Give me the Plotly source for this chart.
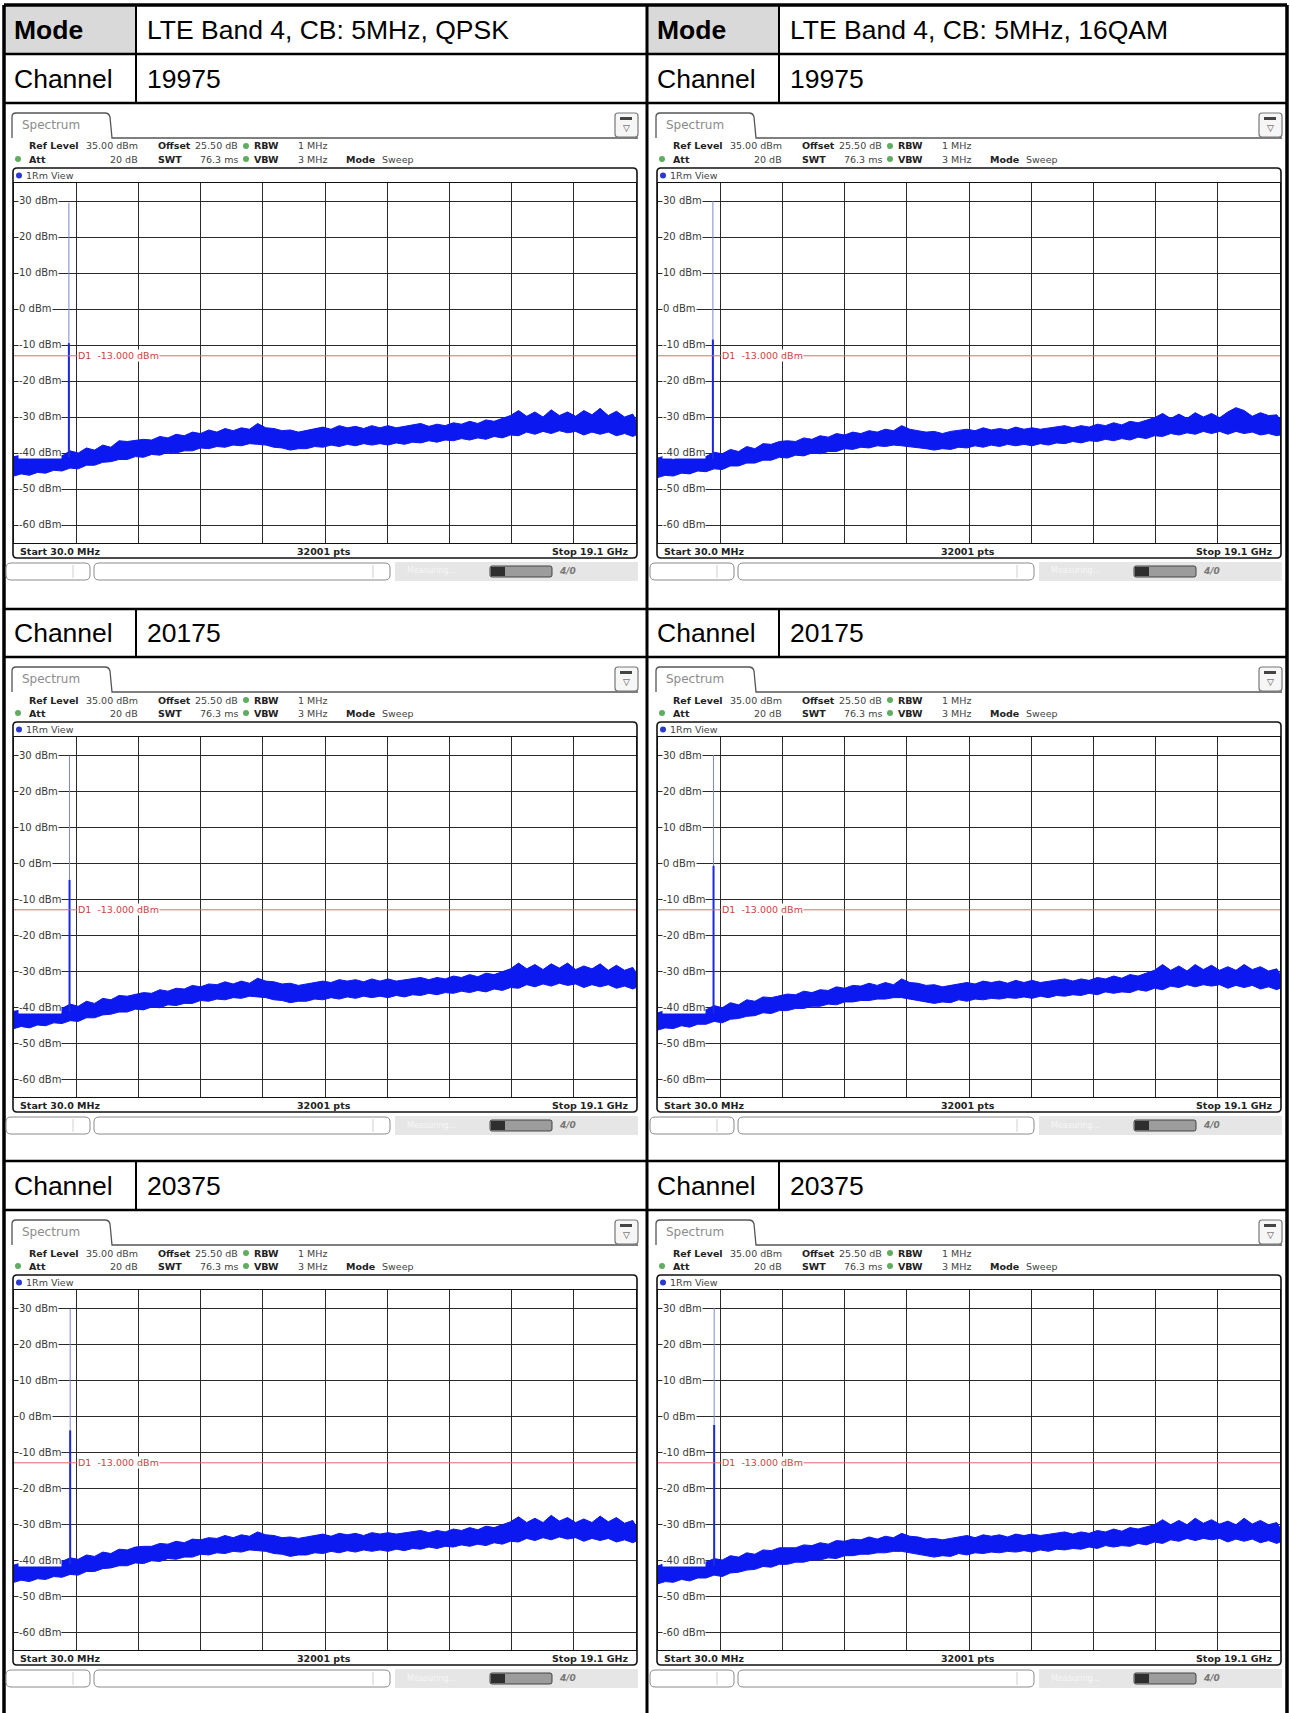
import plotly.graph_objects as go

W, H = 1290, 1713

# ---------------- data ----------------
freq_ghz = [0.03, 0.25, 0.5, 0.75, 1.0, 1.25, 1.5, 1.75, 2.0, 2.25, 2.5, 2.75, 3.0,
            3.25, 3.5, 3.75, 4.0, 4.25, 4.5, 4.75, 5.0, 5.25, 5.5, 5.75, 6.0, 6.25,
            6.5, 6.75, 7.0, 7.25, 7.5, 7.75, 8.0, 8.25, 8.5, 8.75, 9.0, 9.25, 9.5,
            9.75, 10.0, 10.25, 10.5, 10.75, 11.0, 11.25, 11.5, 11.75, 12.0, 12.25, 12.5, 12.75,
            13.0, 13.25, 13.5, 13.75, 14.0, 14.25, 14.5, 14.75, 15.0, 15.25, 15.5, 15.75, 16.0,
            16.25, 16.5, 16.75, 17.0, 17.25, 17.5, 17.75, 18.0, 18.25, 18.5, 18.75, 19.0, 19.1]

modes = ["LTE Band 4, CB: 5MHz, QPSK", "LTE Band 4, CB: 5MHz, 16QAM"]
channels = ["19975", "20175", "20375"]
carrier_ghz = [1.7125, 1.7325, 1.7525]

y_ticks = [30, 20, 10, 0, -10, -20, -30, -40, -50, -60]
display_line_dbm = -13.0
start_ghz, stop_ghz = 0.03, 19.1
ref_dbm, bottom_dbm = 35, -65

# upper / lower envelope of the noise-floor trace (dBm)
qpsk_19975_hi = [-41.0, -40.6, -41.6, -40.4, -41.2, -39.8, -40.8, -39.4, -40.0, -38.6, -39.2, -37.8, -38.4,
                 -36.6, -36.8, -36.6, -36.2, -36.4, -35.4, -35.8, -34.8, -35.2, -34.2, -34.6, -33.6, -34.2,
                 -33.2, -33.8, -33.0, -33.4, -31.8, -33.0, -33.2, -33.8, -33.6, -34.2, -33.8, -33.2, -32.8,
                 -33.4, -32.4, -33.0, -32.6, -33.2, -32.4, -33.0, -32.4, -33.0, -32.6, -32.2, -31.8, -32.6,
                 -32.0, -32.4, -31.6, -32.0, -31.2, -31.8, -30.8, -31.2, -30.4, -29.6, -28.2, -29.8, -28.6,
                 -30.0, -28.0, -29.6, -28.6, -29.8, -28.2, -29.4, -27.6, -29.6, -28.4, -30.0, -29.2, -30.8]
qpsk_19975_lo = [-46.4, -45.8, -46.2, -45.4, -45.6, -44.8, -45.0, -44.2, -44.4, -43.4, -43.4, -42.6, -42.4,
                 -41.8, -41.8, -41.0, -41.2, -40.4, -40.6, -39.8, -40.0, -39.4, -39.4, -38.6, -38.8, -38.2,
                 -38.4, -37.8, -38.0, -37.4, -37.6, -37.8, -38.4, -38.6, -39.2, -38.8, -38.8, -38.2, -38.4,
                 -37.8, -38.2, -37.6, -38.0, -37.4, -37.8, -37.4, -37.8, -37.2, -37.6, -37.0, -37.2, -36.6,
                 -37.0, -36.4, -36.6, -36.0, -36.4, -35.8, -36.2, -35.4, -35.8, -35.0, -35.2, -34.2, -34.8,
                 -34.0, -34.6, -33.8, -34.4, -34.0, -35.0, -34.2, -34.8, -34.2, -35.2, -34.6, -35.4, -35.0]
qam_19975_hi = [-41.4, -40.8, -41.8, -40.6, -41.4, -40.2, -41.0, -39.8, -40.2, -39.0, -39.6, -38.2, -38.8,
                -37.4, -37.6, -36.8, -36.6, -36.8, -35.8, -36.2, -35.2, -35.6, -34.6, -35.0, -34.2, -34.6,
                -33.8, -34.2, -33.4, -33.8, -32.4, -33.4, -33.8, -34.2, -34.0, -34.6, -34.0, -33.6, -33.4,
                -33.8, -33.0, -33.6, -33.2, -33.6, -32.8, -33.4, -33.0, -33.4, -33.0, -32.6, -32.4, -33.0,
                -32.4, -32.8, -32.0, -32.4, -31.6, -32.2, -31.2, -31.6, -30.8, -30.2, -29.0, -30.4, -29.2,
                -30.4, -28.8, -30.0, -29.0, -30.2, -28.6, -27.4, -28.2, -29.8, -28.8, -29.6, -29.4, -30.6]
qam_19975_lo = [-46.8, -46.2, -46.4, -45.6, -45.8, -45.0, -45.2, -44.4, -44.6, -43.6, -43.6, -42.8, -42.8,
                -42.0, -42.0, -41.2, -41.4, -40.6, -40.8, -40.0, -40.2, -39.6, -39.6, -38.8, -39.0, -38.4,
                -38.6, -38.0, -38.2, -37.8, -38.0, -38.2, -38.6, -38.8, -39.2, -38.8, -39.0, -38.4, -38.6,
                -38.0, -38.4, -37.8, -38.2, -37.6, -38.0, -37.6, -38.0, -37.4, -37.8, -37.2, -37.4, -36.8,
                -37.2, -36.6, -36.8, -36.2, -36.6, -36.0, -36.4, -35.6, -36.0, -35.2, -35.4, -34.6, -35.0,
                -34.4, -34.8, -34.0, -34.6, -34.0, -34.8, -34.0, -34.6, -34.2, -35.0, -34.6, -35.2, -35.0]
qpsk_20175_hi = [-41.2, -40.8, -41.4, -40.2, -40.8, -39.6, -40.4, -39.2, -39.8, -38.4, -39.0, -37.6, -38.0,
                 -36.8, -37.0, -36.4, -36.0, -36.2, -35.2, -35.6, -34.8, -35.0, -34.0, -34.4, -33.6, -33.8,
                 -33.0, -33.6, -32.8, -33.4, -32.0, -32.8, -33.0, -33.6, -33.4, -34.0, -33.6, -33.0, -32.8,
                 -33.2, -32.4, -32.8, -32.4, -33.0, -32.2, -32.8, -32.2, -32.8, -32.4, -32.0, -31.8, -32.4,
                 -31.8, -32.2, -31.4, -31.8, -31.0, -31.6, -30.6, -31.0, -30.2, -29.4, -27.8, -29.4, -28.2,
                 -29.6, -28.0, -29.2, -27.8, -29.6, -28.6, -29.4, -28.0, -29.8, -28.4, -29.8, -29.0, -30.4]
qpsk_20175_lo = [-46.0, -45.4, -45.8, -45.0, -45.2, -44.4, -44.6, -43.8, -44.0, -43.0, -43.0, -42.2, -42.0,
                 -41.4, -41.4, -40.6, -40.8, -40.0, -40.2, -39.4, -39.6, -39.0, -39.0, -38.2, -38.4, -37.8,
                 -38.0, -37.4, -37.6, -37.0, -37.2, -37.4, -38.0, -38.2, -38.8, -38.4, -38.4, -37.8, -38.0,
                 -37.4, -37.8, -37.2, -37.6, -37.0, -37.4, -37.0, -37.4, -36.8, -37.2, -36.6, -36.8, -36.2,
                 -36.6, -36.0, -36.2, -35.6, -36.0, -35.4, -35.8, -35.0, -35.4, -34.6, -34.8, -33.8, -34.4,
                 -33.6, -34.2, -33.4, -34.0, -33.6, -34.6, -33.8, -34.4, -33.8, -34.8, -34.2, -35.0, -34.6]
qam_20175_hi = [-41.6, -41.0, -41.8, -40.6, -41.2, -40.0, -40.8, -39.6, -40.2, -38.8, -39.4, -38.0, -38.4,
                -37.2, -37.4, -36.8, -36.4, -36.6, -35.6, -36.0, -35.2, -35.4, -34.4, -34.8, -34.0, -34.2,
                -33.4, -34.0, -33.2, -33.8, -32.2, -33.2, -33.4, -34.0, -33.8, -34.4, -34.0, -33.4, -33.2,
                -33.6, -32.8, -33.2, -32.8, -33.4, -32.6, -33.2, -32.6, -33.2, -32.8, -32.4, -32.2, -32.8,
                -32.2, -32.6, -31.8, -32.2, -31.4, -32.0, -31.0, -31.4, -30.6, -29.8, -28.2, -29.8, -28.6,
                -30.0, -28.2, -29.6, -28.4, -29.8, -28.8, -29.8, -28.2, -29.6, -28.8, -30.0, -29.4, -30.8]
qam_20175_lo = [-46.4, -45.8, -46.0, -45.2, -45.6, -44.8, -44.8, -44.0, -44.4, -43.4, -43.2, -42.6, -42.4,
                -41.6, -41.8, -41.0, -41.0, -40.4, -40.4, -39.8, -39.8, -39.2, -39.4, -38.6, -38.6, -38.2,
                -38.2, -37.8, -37.8, -37.4, -37.4, -37.8, -38.2, -38.6, -39.0, -38.6, -38.8, -38.0, -38.4,
                -37.8, -38.0, -37.6, -37.8, -37.4, -37.6, -37.2, -37.6, -37.0, -37.4, -36.8, -37.0, -36.6,
                -36.8, -36.2, -36.6, -35.8, -36.2, -35.8, -36.0, -35.2, -35.6, -34.8, -35.2, -34.2, -34.6,
                -33.8, -34.4, -33.8, -34.2, -33.8, -34.8, -34.0, -34.6, -34.0, -35.0, -34.4, -35.2, -34.8]
qpsk_20375_hi = [-41.4, -40.8, -41.6, -40.4, -41.0, -39.8, -40.4, -39.4, -39.8, -38.6, -39.0, -37.8, -38.2,
                 -37.0, -37.2, -36.4, -36.2, -36.2, -35.4, -35.6, -34.8, -35.2, -34.2, -34.4, -33.8, -34.0,
                 -33.2, -33.8, -33.0, -33.4, -32.2, -33.0, -33.2, -33.8, -33.6, -34.0, -33.6, -33.2, -32.8,
                 -33.4, -32.6, -33.0, -32.6, -33.2, -32.4, -32.8, -32.4, -32.8, -32.4, -32.0, -31.8, -32.4,
                 -31.8, -32.2, -31.4, -31.8, -31.0, -31.6, -30.6, -31.0, -30.2, -29.4, -28.0, -29.6, -28.4,
                 -29.6, -27.6, -29.2, -28.2, -29.6, -28.6, -29.6, -27.8, -29.4, -28.2, -29.8, -29.0, -30.6]
qpsk_20375_lo = [-46.2, -45.6, -46.0, -45.2, -45.4, -44.6, -44.8, -44.0, -44.2, -43.2, -43.2, -42.4, -42.2,
                 -41.6, -41.6, -40.8, -41.0, -40.2, -40.4, -39.6, -39.8, -39.2, -39.2, -38.4, -38.6, -38.0,
                 -38.2, -37.6, -37.8, -37.2, -37.4, -37.6, -38.2, -38.4, -39.0, -38.6, -38.6, -38.0, -38.2,
                 -37.6, -38.0, -37.4, -37.8, -37.2, -37.6, -37.2, -37.6, -37.0, -37.4, -36.8, -37.0, -36.4,
                 -36.8, -36.2, -36.4, -35.8, -36.2, -35.6, -36.0, -35.2, -35.6, -34.8, -35.0, -34.0, -34.6,
                 -33.8, -34.4, -33.6, -34.2, -33.8, -34.8, -34.0, -34.6, -34.0, -35.0, -34.4, -35.2, -34.8]
qam_20375_hi = [-41.6, -41.0, -41.8, -40.6, -41.2, -40.0, -40.6, -39.6, -40.0, -38.8, -39.2, -38.0, -38.4,
                -37.2, -37.4, -36.6, -36.6, -36.6, -35.8, -36.0, -35.2, -35.6, -34.6, -34.8, -34.2, -34.4,
                -33.6, -34.2, -33.4, -33.8, -32.6, -33.4, -33.6, -34.2, -34.0, -34.4, -34.0, -33.6, -33.2,
                -33.8, -33.0, -33.4, -33.0, -33.6, -32.8, -33.2, -32.8, -33.2, -32.8, -32.4, -32.2, -32.8,
                -32.2, -32.6, -31.8, -32.2, -31.4, -32.0, -31.0, -31.4, -30.8, -30.2, -28.8, -30.2, -29.0,
                -30.2, -28.4, -29.8, -28.8, -30.0, -29.2, -30.2, -28.4, -30.0, -29.0, -30.2, -29.6, -31.0]
qam_20375_lo = [-46.6, -46.0, -46.2, -45.4, -45.8, -45.0, -45.0, -44.2, -44.6, -43.6, -43.4, -42.8, -42.6,
                -41.8, -42.0, -41.2, -41.2, -40.6, -40.6, -40.0, -40.0, -39.4, -39.6, -38.8, -38.8, -38.4,
                -38.4, -38.0, -38.0, -37.6, -37.6, -38.0, -38.4, -38.8, -39.2, -38.8, -39.0, -38.2, -38.6,
                -38.0, -38.2, -37.8, -38.0, -37.6, -37.8, -37.4, -37.8, -37.2, -37.6, -37.0, -37.2, -36.8,
                -37.0, -36.4, -36.8, -36.0, -36.4, -36.0, -36.2, -35.4, -35.8, -35.0, -35.4, -34.4, -34.8,
                -34.0, -34.6, -34.0, -34.4, -34.0, -35.0, -34.2, -34.8, -34.2, -35.2, -34.6, -35.4, -35.0]

# carrier spike per panel (row-major: QPSK, 16QAM): base, solid part top, faint part top (dBm)
spike_base = [-41.0, -41.5, -41.0, -41.5, -41.0, -41.5]
spike_body = [-9.5, -8.5, -4.7, -0.8, -4.0, -2.5]
spike_peak = [29.5, 30.0, 29.8, 30.0, 29.8, 30.0]

panel_hi = [qpsk_19975_hi, qam_19975_hi, qpsk_20175_hi, qam_20175_hi, qpsk_20375_hi, qam_20375_hi]
panel_lo = [qpsk_19975_lo, qam_19975_lo, qpsk_20175_lo, qam_20175_lo, qpsk_20375_lo, qam_20375_lo]

# ---------------- helpers ----------------
BLUE = "#0c18f0"
SPEC_FONT = "DejaVu Sans"
TAB_FONT = "Liberation Sans"

shapes, annos = [], []


def X(v):
    return v / W


def Y(v):
    return 1 - v / H


def line(x0, y0, x1, y1, color="#000", width=1.0):
    shapes.append(dict(type="line", xref="paper", yref="paper", x0=X(x0), y0=Y(y0),
                       x1=X(x1), y1=Y(y1), line=dict(color=color, width=width)))


def rect(x0, y0, x1, y1, fill, layer="below"):
    shapes.append(dict(type="rect", xref="paper", yref="paper", x0=X(x0), y0=Y(y0),
                       x1=X(x1), y1=Y(y1), fillcolor=fill,
                       line=dict(color=fill, width=0), layer=layer))


def rrect(x0, y0, x1, y1, r, fill=None, color="#000", width=1.0):
    p = (f"M {X(x0 + r)},{Y(y0)} L {X(x1 - r)},{Y(y0)} Q {X(x1)},{Y(y0)} {X(x1)},{Y(y0 + r)} "
         f"L {X(x1)},{Y(y1 - r)} Q {X(x1)},{Y(y1)} {X(x1 - r)},{Y(y1)} L {X(x0 + r)},{Y(y1)} "
         f"Q {X(x0)},{Y(y1)} {X(x0)},{Y(y1 - r)} L {X(x0)},{Y(y0 + r)} Q {X(x0)},{Y(y0)} {X(x0 + r)},{Y(y0)} Z")
    d = dict(type="path", xref="paper", yref="paper", path=p, line=dict(color=color, width=width))
    if fill:
        d["fillcolor"] = fill
    shapes.append(d)


def dot(cx, cy, r, fill):
    shapes.append(dict(type="circle", xref="paper", yref="paper", x0=X(cx - r), y0=Y(cy - r),
                       x1=X(cx + r), y1=Y(cy + r), fillcolor=fill, line=dict(color=fill, width=0)))


def text(x, y, s, size=10, color="#222", anchor="left", bold=False, family=SPEC_FONT, italic=False):
    if bold:
        s = f"<b>{s}</b>"
    if italic:
        s = f"<i>{s}</i>"
    annos.append(dict(x=X(x), y=Y(y), xref="paper", yref="paper", text=s, showarrow=False,
                      xanchor=anchor, yanchor="middle", font=dict(size=size, color=color, family=family)))


# ---------------- table ----------------
rect(4, 5, 136, 54, "#d9d9d9")
rect(647, 5, 779, 54, "#d9d9d9")
row_lines = [54, 103, 609, 657, 1161, 1210]
for yy in row_lines:
    line(4, yy, 1287, yy, "#000", 2.5)
line(4, 5, 1287, 5, "#000", 3.5)
line(4, 5, 4, 1713, "#000", 3.5)
line(1287, 5, 1287, 1713, "#000", 3.5)
line(647, 5, 647, 1713, "#000", 3)
for (ya, yb) in [(5, 54), (54, 103), (609, 657), (1161, 1210)]:
    line(136, ya, 136, yb, "#000", 2)
    line(779, ya, 779, yb, "#000", 2)

for c, m in enumerate(modes):
    ox = c * 643
    text(12 + ox, 30, "Mode", 26.5, "#000", bold=True, family=TAB_FONT)
    text(145 + ox, 30, m, 26.5, "#000", family=TAB_FONT)
    for r, (cy, ch) in enumerate(zip([79, 633, 1186], channels)):
        text(12 + ox, cy, "Channel", 26.5, "#000", family=TAB_FONT)
        text(145 + ox, cy, ch, 26.5, "#000", family=TAB_FONT)

# ---------------- spectrum panels ----------------
fig = go.Figure()
layout_axes = {}
grid_x = [start_ghz + k * (stop_ghz - start_ghz) / 10 for k in range(1, 10)]
row_off = [0, 554, 1107]

for i in range(6):
    row, col = divmod(i, 2)
    ox, oy = col * 644, row_off[row]
    n = i + 1
    xa = "x" if n == 1 else f"x{n}"
    ya = "y" if n == 1 else f"y{n}"
    layout_axes["xaxis" if n == 1 else f"xaxis{n}"] = dict(
        domain=[X(14 + ox), X(636 + ox)], range=[start_ghz, stop_ghz], tickvals=grid_x,
        showticklabels=False, ticks="", showgrid=True, gridcolor="#2a2a2a", gridwidth=1,
        zeroline=False, showline=True, linecolor="#111", linewidth=1, mirror=True,
        anchor=ya, fixedrange=True)
    layout_axes["yaxis" if n == 1 else f"yaxis{n}"] = dict(
        domain=[Y(543 + oy), Y(183 + oy)], range=[bottom_dbm, ref_dbm], tickvals=y_ticks,
        showticklabels=False, ticks="", showgrid=True, gridcolor="#2a2a2a", gridwidth=1,
        zeroline=False, showline=True, linecolor="#111", linewidth=1, mirror=True,
        anchor=xa, fixedrange=True)

    # noise floor band
    fig.add_trace(go.Scatter(x=freq_ghz, y=panel_lo[i], xaxis=xa, yaxis=ya, mode="lines",
                             line=dict(color=BLUE, width=1), hoverinfo="skip", showlegend=False))
    fig.add_trace(go.Scatter(x=freq_ghz, y=panel_hi[i], xaxis=xa, yaxis=ya, mode="lines",
                             fill="tonexty", fillcolor=BLUE,
                             line=dict(color=BLUE, width=1), hoverinfo="skip", showlegend=False))
    f = carrier_ghz[row]
    fig.add_trace(go.Scatter(x=[f, f], y=[spike_base[i], spike_peak[i]], xaxis=xa, yaxis=ya,
                             mode="lines", line=dict(color="#7d88d6", width=1),
                             hoverinfo="skip", showlegend=False))
    fig.add_trace(go.Scatter(x=[f, f], y=[spike_base[i], spike_body[i]], xaxis=xa, yaxis=ya,
                             mode="lines", line=dict(color="#1c28dc", width=2),
                             hoverinfo="skip", showlegend=False))

    # display line D1
    shapes.append(dict(type="line", xref=f"{xa} domain", yref=ya, x0=0, x1=1,
                       y0=display_line_dbm, y1=display_line_dbm,
                       line=dict(color="#e06868", width=1)))
    annos.append(dict(x=grid_x[0], y=display_line_dbm, xref=xa, yref=ya, xanchor="left",
                      yanchor="middle", xshift=1, showarrow=False, text="D1  -13.000 dBm",
                      bgcolor="white", borderpad=0,
                      font=dict(size=9.5, color="#cc4444", family=SPEC_FONT)))
    # y labels
    for v in y_ticks:
        annos.append(dict(x=0, y=v, xref=f"{xa} domain", yref=ya, xanchor="left",
                          yanchor="middle", xshift=4, showarrow=False, text=f"{v} dBm",
                          bgcolor="white", borderpad=0,
                          font=dict(size=10, color="#3a3a3a", family=SPEC_FONT)))

    # tab + header
    tab = (f"M {X(12 + ox)},{Y(138 + oy)} L {X(12 + ox)},{Y(117 + oy)} "
           f"Q {X(12 + ox)},{Y(113 + oy)} {X(16 + ox)},{Y(113 + oy)} "
           f"L {X(105 + ox)},{Y(113 + oy)} Q {X(109 + ox)},{Y(113 + oy)} {X(110 + ox)},{Y(117 + oy)} "
           f"L {X(112 + ox)},{Y(138 + oy)} L {X(638 + ox)},{Y(138 + oy)}")
    shapes.append(dict(type="path", xref="paper", yref="paper", path=tab,
                       line=dict(color="#555", width=1.3)))
    text(20 + ox, 125 + oy, "Spectrum", 12, "#8c8c8c")
    rrect(615 + ox, 113 + oy, 638 + ox, 137 + oy, 3, fill="#f6f6f6", color="#777", width=1.2)
    rect(620 + ox, 117 + oy, 632 + ox, 120 + oy, "#444", layer="above")
    text(626 + ox, 128 + oy, "▽", 9, "#444", anchor="center")

    y1, y2 = 146 + oy, 159 + oy
    text(27 + ox, y1, "Ref Level", 9.5, "#222", bold=True)
    text(140 + ox, y1, "35.00 dBm", 9.5, "#444", anchor="right")
    text(156 + ox, y1, "Offset", 9.5, "#222", bold=True)
    text(240 + ox, y1, "25.50 dB", 9.5, "#444", anchor="right")
    dot(246 + ox, y1, 3, "#5fae5f")
    text(252 + ox, y1, "RBW", 9.5, "#222", bold=True)
    text(296 + ox, y1, "1 MHz", 9.5, "#444")
    dot(18 + ox, y2, 3, "#5fae5f")
    text(27 + ox, y2, "Att", 9.5, "#222", bold=True)
    text(140 + ox, y2, "20 dB", 9.5, "#444", anchor="right")
    text(156 + ox, y2, "SWT", 9.5, "#222", bold=True)
    text(240 + ox, y2, "76.3 ms", 9.5, "#444", anchor="right")
    dot(246 + ox, y2, 3, "#5fae5f")
    text(252 + ox, y2, "VBW", 9.5, "#222", bold=True)
    text(296 + ox, y2, "3 MHz", 9.5, "#444")
    text(344 + ox, y2, "Mode", 9.5, "#222", bold=True)
    text(380 + ox, y2, "Sweep", 9.5, "#444")

    # frame
    rrect(13 + ox, 168 + oy, 637 + ox, 558 + oy, 4, color="#111", width=1.6)
    dot(19 + ox, 175.5 + oy, 3, "#2a3ad0")
    text(24 + ox, 175.5 + oy, "1Rm View", 9.5, "#444")
    text(18 + ox, 551 + oy, "Start 30.0 MHz", 9.5, "#222", bold=True)
    text(324 + ox, 551 + oy, "32001 pts", 9.5, "#222", anchor="center", bold=True)
    text(631 + ox, 551 + oy, "Stop 19.1 GHz", 9.5, "#222", anchor="right", bold=True)

    # status bar
    rect(395 + ox, 562 + oy, 638 + ox, 581 + oy, "#e6e6e6")
    rrect(6 + ox, 563 + oy, 90 + ox, 580 + oy, 5, fill="white", color="#8a8a8a", width=1)
    line(73 + ox, 565 + oy, 73 + ox, 578 + oy, "#d0d0d0", 1)
    rrect(94 + ox, 563 + oy, 390 + ox, 580 + oy, 5, fill="white", color="#8a8a8a", width=1)
    line(373 + ox, 565 + oy, 373 + ox, 578 + oy, "#d0d0d0", 1)
    text(405 + ox, 571 + oy, "Measuring...", 8, "#f6f6f6")
    rrect(490 + ox, 566 + oy, 552 + ox, 577 + oy, 2, fill="#9c9c9c", color="#444", width=1)
    rect(491 + ox, 567 + oy, 505 + ox, 576 + oy, "#2e2e2e", layer="above")
    text(557 + ox, 571 + oy, "4/0", 9, "#777", bold=True, italic=True)

fig.update_layout(width=W, height=H, margin=dict(l=0, r=0, t=0, b=0),
                  paper_bgcolor="white", plot_bgcolor="white", showlegend=False,
                  shapes=shapes, annotations=annos, **layout_axes)
fig.write_html("out.html", config={"displayModeBar": False},
               post_script="document.body.style.margin='0';document.body.style.overflow='hidden';")
